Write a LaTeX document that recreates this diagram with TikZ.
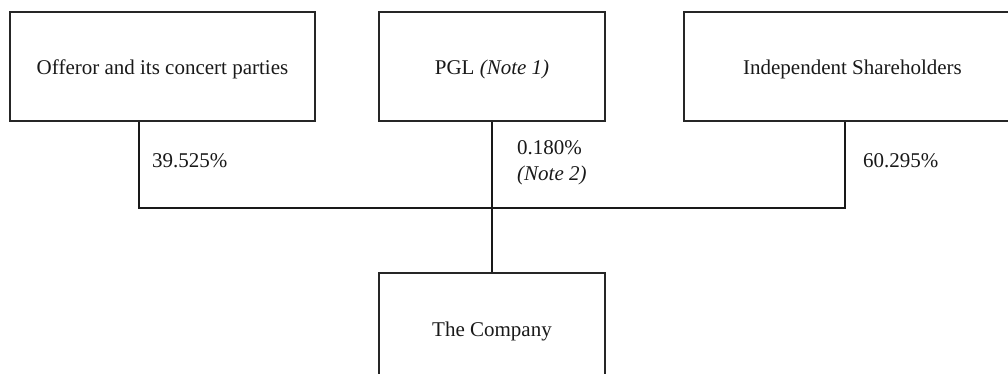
\documentclass[tikz,border=0pt]{standalone}
\usepackage{fontspec}
\setmainfont{Liberation Serif}
\begin{document}
\begin{tikzpicture}[x=1pt,y=-1pt,
  box/.style={draw=black!85,line width=1.4pt,minimum height=109pt,inner sep=0pt,
    text height=17pt,text depth=0pt,
    font=\fontsize{21}{26}\selectfont,text=black!90},
  lbl/.style={anchor=west,inner sep=0pt,align=left,
    font=\fontsize{21}{26}\selectfont,text=black!90},
  conn/.style={draw=black!90,line width=1.4pt}]
\useasboundingbox (0,0) rectangle (1008,374);
\clip (0,0) rectangle (1008,374);
\node[box,minimum width=305pt] (off) at (162.5,66.5) {Offeror and its concert parties};
\node[box,minimum width=226pt] (pgl) at (492,66.5) {PGL \textit{(Note 1)}};
\node[box,minimum width=337pt] (ind) at (852.5,66.5) {Independent Shareholders};
\node[box,minimum width=226pt] (co) at (492,327.5) {The Company};
\coordinate (jl) at (139,208);
\coordinate (jr) at (845,208);
\draw[conn] (off.south -| jl) -- (jl) -- (jr) -- (ind.south -| jr);
\draw[conn] (pgl.south) -- (co.north);
\node[lbl] (p1) at (152,161) {39.525\%};
\node[lbl] (p2) at (517,163) {0.180\%\\\textit{(Note 2)}};
\node[lbl] (p3) at (863,161) {60.295\%};
\end{tikzpicture}
\end{document}
